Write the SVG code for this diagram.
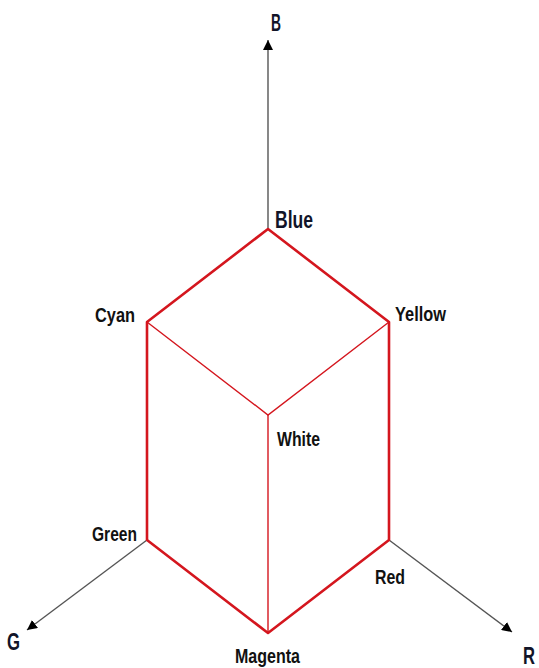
<svg xmlns="http://www.w3.org/2000/svg" width="539" height="668" viewBox="0 0 539 668">
<defs>
<marker id="ah" viewBox="0 0 10 10" refX="10" refY="5" markerWidth="10" markerHeight="10" markerUnits="userSpaceOnUse" orient="auto">
<path d="M0,0 L10,5 L0,10 z" fill="#000"/>
</marker>
<style>
.axis{stroke:#555;stroke-width:1.4;fill:none;marker-end:url(#ah)}
.edge{stroke:#d4161e;stroke-width:2.6;fill:none;stroke-linejoin:round}
.inner{stroke:#d4161e;stroke-width:1.4;fill:none}
.lbl{font-family:"Liberation Sans",sans-serif;font-weight:bold;font-size:21px;fill:#111}
.ax{font-family:"Liberation Sans",sans-serif;font-weight:bold;font-size:23px;fill:#111428}
</style>
</defs>
<rect width="539" height="668" fill="#fff"/>
<g id="connectors">
<line class="axis" x1="268" y1="229" x2="268" y2="40"/>
<line class="axis" x1="147" y1="540" x2="27" y2="630"/>
<line class="axis" x1="389" y1="540" x2="512" y2="632"/>
<polygon class="edge" points="268,229 389,322 389,540 268,633 147,540 147,322"/>
<polyline class="inner" points="147,322 268,415 389,322"/>
<line class="inner" x1="268" y1="415" x2="268" y2="633"/>
</g>
<g id="B"><text class="ax" x="271" y="31" textLength="10" lengthAdjust="spacingAndGlyphs">B</text></g>
<g id="G"><text class="ax" x="7" y="650" textLength="13" lengthAdjust="spacingAndGlyphs">G</text></g>
<g id="R"><text class="ax" x="523" y="664" textLength="12" lengthAdjust="spacingAndGlyphs">R</text></g>
<g id="blue"><text class="ax" x="275" y="228" textLength="38" lengthAdjust="spacingAndGlyphs">Blue</text></g>
<g id="cyan"><text class="lbl" x="95" y="322" textLength="40" lengthAdjust="spacingAndGlyphs">Cyan</text></g>
<g id="yellow"><text class="lbl" x="395" y="321" textLength="51" lengthAdjust="spacingAndGlyphs">Yellow</text></g>
<g id="white"><text class="lbl" x="277" y="446" textLength="43" lengthAdjust="spacingAndGlyphs">White</text></g>
<g id="green"><text class="lbl" x="92" y="541" textLength="45" lengthAdjust="spacingAndGlyphs">Green</text></g>
<g id="red"><text class="lbl" x="375" y="584" textLength="30" lengthAdjust="spacingAndGlyphs">Red</text></g>
<g id="magenta"><text class="lbl" x="235" y="663" textLength="65" lengthAdjust="spacingAndGlyphs">Magenta</text></g>
</svg>
